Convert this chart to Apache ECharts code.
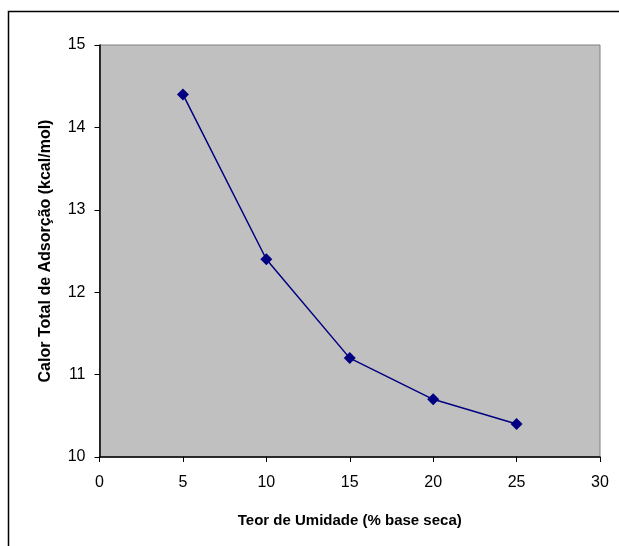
<!DOCTYPE html>
<html><head><meta charset="utf-8">
<script src="https://cdn.jsdelivr.net/npm/echarts@6/dist/echarts.min.js"></script>
<style>html,body{margin:0;padding:0;background:#fff}#c{width:619px;height:546px}</style>
</head><body><div id="c"></div>
<script>
var xValues = [5, 10, 15, 20, 25];
var yValues = [14.4, 12.4, 11.2, 10.7, 10.4];
var xTitle = 'Teor de Umidade (% base seca)';
var yTitle = 'Calor Total de Adsorção (kcal/mol)';

var chart = echarts.init(document.getElementById('c'), null, {renderer: 'canvas'});
var font = 'Arial, "Liberation Sans", sans-serif';
chart.setOption({
  animation: false,
  backgroundColor: '#fff',
  graphic: [{
    type: 'rect', silent: true, z: -10,
    shape: {x: 8.5, y: 11.5, width: 700, height: 700},
    style: {fill: 'none', stroke: '#000', lineWidth: 1.5}
  }],
  grid: {left: 99.5, right: 19, top: 45, bottom: 89, show: true,
    backgroundColor: '#C0C0C0', borderColor: '#808080', borderWidth: 1},
  xAxis: {
    type: 'value', min: 0, max: 30, interval: 5,
    name: xTitle, nameLocation: 'middle', nameGap: 56,
    nameTextStyle: {fontFamily: font, fontWeight: 'bold', fontSize: 15, color: '#000'},
    axisLine: {lineStyle: {color: '#000', width: 1.5}},
    axisTick: {show: true, length: 5, lineStyle: {color: '#000'}},
    axisLabel: {fontFamily: font, fontSize: 16, color: '#000', margin: 18},
    splitLine: {show: false}
  },
  yAxis: {
    type: 'value', min: 10, max: 15, interval: 1,
    name: yTitle, nameLocation: 'middle', nameGap: 46, nameRotate: 90,
    nameTextStyle: {fontFamily: font, fontWeight: 'bold', fontSize: 16, color: '#000'},
    axisLine: {show: true, lineStyle: {color: '#000', width: 1.5}},
    axisTick: {show: true, length: 5, lineStyle: {color: '#000'}},
    axisLabel: {fontFamily: font, fontSize: 16, color: '#000', margin: 14},
    splitLine: {show: false}
  },
  series: [{
    type: 'line',
    data: xValues.map(function (x, i) { return [x, yValues[i]]; }),
    symbol: 'diamond', symbolSize: 12, showSymbol: true,
    lineStyle: {color: '#000080', width: 1.5},
    itemStyle: {color: '#000080'}
  }]
});
</script></body></html>
